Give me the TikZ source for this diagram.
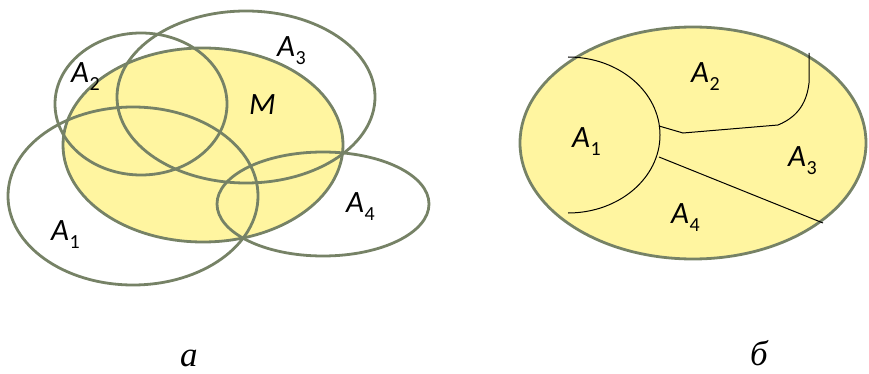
\documentclass[tikz,border=0pt]{standalone}
\usepackage{fontspec}
\setmainfont{Liberation Serif}
\newfontfamily\labfont{Carlito}
% set label: italic sans letter with an upright subscript
\newcommand\setlab[2]{{\labfont\itshape #1}\ifx\relax#2\relax\else\kern0.5pt\raisebox{-8pt}{\labfont\upshape\fontsize{20}{20}\selectfont #2}\fi}
\definecolor{rimgreen}{RGB}{118,130,102}
\definecolor{setfill}{RGB}{255,245,160}
\begin{document}
\begin{tikzpicture}[x=1pt,y=-1pt,
  rim/.style={draw=rimgreen,line width=2.8pt},
  part/.style={draw=black,line width=1pt},
  lab/.style={anchor=base west,inner sep=0pt,font=\fontsize{31}{31}\selectfont},
  figcaption/.style={anchor=base west,inner sep=0pt,font=\fontsize{35}{35}\selectfont\itshape}]
\useasboundingbox (0,0) rectangle (869,374);

% left figure: the set M and the covering sets A1..A4
\fill[setfill] (203,145) ellipse [x radius=140pt, y radius=97pt];
\draw[rim] (203,145) ellipse [x radius=140pt, y radius=97pt];
\draw[rim] (133,196) ellipse [x radius=125pt, y radius=89pt];
\draw[rim] (141,104) ellipse [x radius=86pt, y radius=71pt];
\draw[rim] (246,97) ellipse [x radius=129pt, y radius=86pt];
\draw[rim] (323,204) ellipse [x radius=106pt, y radius=52pt];

\node[lab] (la2) at (71,83) {\setlab{A}{2}};
\node[lab] (la3) at (277,57) {\setlab{A}{3}};
\node[lab] (lm) at (249,115) {\setlab{M}{}};
\node[lab] (la4) at (346,212) {\setlab{A}{4}};
\node[lab] (la1) at (51,240) {\setlab{A}{1}};
\node[figcaption] (capa) at (180,366) {а};

% right figure: a partition of M into A1..A4
\fill[setfill] (693,143) ellipse [x radius=173pt, y radius=116pt];
\draw[rim] (693,143) ellipse [x radius=173pt, y radius=116pt];
\draw[part] (568,57) arc [start angle=90, end angle=-90, x radius=92pt, y radius=78pt];
\draw[part] (659,126) -- (683,133) -- (778,125) .. controls (800,116) and (807,100) .. (809,83) -- (809,53);
\draw[part] (659,157) -- (823,223);

\node[lab] (ra2) at (691,83) {\setlab{A}{2}};
\node[lab] (ra1) at (572,148) {\setlab{A}{1}};
\node[lab] (ra3) at (788,167) {\setlab{A}{3}};
\node[lab] (ra4) at (671,223) {\setlab{A}{4}};
\node[figcaption] (capb) at (750,365) {б};
\end{tikzpicture}
\end{document}
